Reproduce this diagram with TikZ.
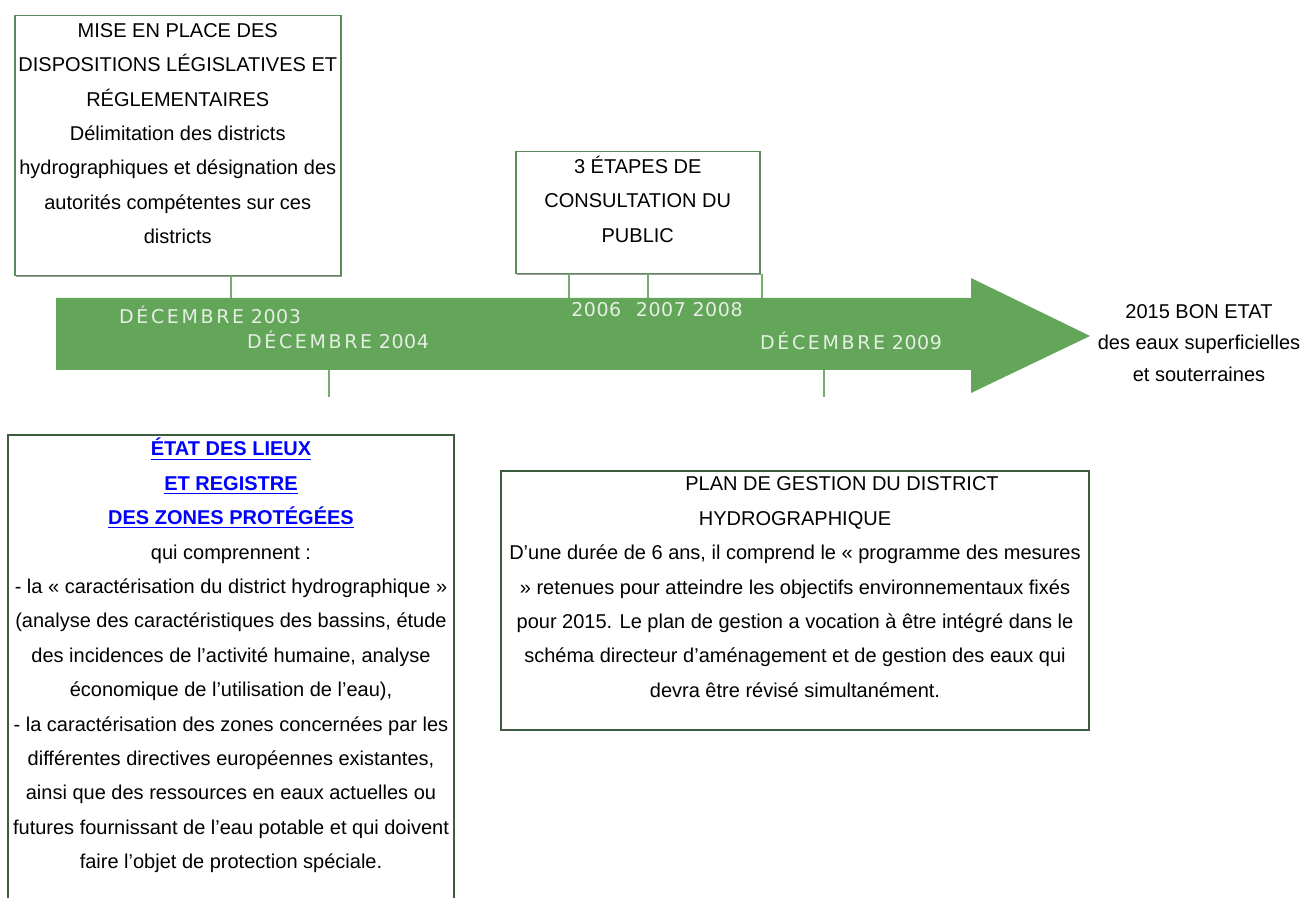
\documentclass[tikz,border=0pt]{standalone}
\usepackage{fontspec}
\setmainfont{Liberation Sans}
\newfontfamily\datefont[LetterSpace=14]{DejaVu Sans}
\newfontfamily\anfont[LetterSpace=3]{DejaVu Sans}
\usetikzlibrary{shadows}

\definecolor{vertfleche}{HTML}{63A559}
\definecolor{vertdate}{HTML}{E6EFE4}
\definecolor{vertcadre}{HTML}{5B8B5B}
\definecolor{vertfonce}{HTML}{3D5B3D}
\definecolor{bleulien}{HTML}{0000FF}

\newcommand{\corps}{\fontsize{10}{17.2}\selectfont}
\newcommand{\cadre}[4]{\parbox[t][#2][t]{#1}{\centering\rule{0pt}{#3}#4}}
\newcommand{\lienbleu}[1]{\textcolor{bleulien}{\textbf{\underline{#1}}}}
\newcommand{\mois}[1]{{\datefont #1}}

\tikzset{
  cadrehaut/.style={draw=vertcadre, line width=0.75pt, fill=white, inner sep=0pt, anchor=north west, font=\corps,
    drop shadow={shadow xshift=0.6pt, shadow yshift=-0.6pt, fill=black!40, opacity=1}},
  cadrebas/.style={draw=vertfonce, line width=1pt, fill=white, inner sep=0pt, anchor=north west, font=\corps},
  repere/.style={draw=vertfleche!90!white, line width=0.8pt},
  datelbl/.style={text=vertdate, font=\anfont\fontsize{9.5}{10}\selectfont, inner sep=0pt}
}

\begin{document}
\begin{tikzpicture}[x=0.5pt, y=-0.5pt]
\useasboundingbox (0,0) rectangle (1302,898);
\clip (0,0) rectangle (1302,898);

\coordinate (hautfleche) at (0,298);
\coordinate (basfleche) at (0,370);
\coordinate (x2003) at (231,0);
\coordinate (x2006) at (569,0);
\coordinate (x2007) at (648,0);
\coordinate (x2008) at (762,0);
\coordinate (fin2004) at (329,397);
\coordinate (fin2009) at (824,397);

\node[cadrehaut] (mise) at (14,15) {\cadre{163pt}{130pt}{10.8pt}{MISE EN PLACE DES\\DISPOSITIONS LÉGISLATIVES ET\\RÉGLEMENTAIRES\\Délimitation des districts\\hydrographiques et désignation des\\autorités compétentes sur ces\\districts}};
\node[cadrehaut] (consult) at (515,151) {\cadre{122pt}{61pt}{10.8pt}{3 ÉTAPES DE\\CONSULTATION DU\\PUBLIC}};

\draw[repere] (mise.south -| x2003) -- (hautfleche -| x2003);
\draw[repere] (consult.south -| x2006) -- (hautfleche -| x2006);
\draw[repere] (consult.south -| x2007) -- (hautfleche -| x2007);
\draw[repere] (consult.south -| x2008) -- (hautfleche -| x2008);
\draw[repere] (basfleche -| fin2004) -- (fin2004);
\draw[repere] (basfleche -| fin2009) -- (fin2009);

\fill[vertfleche] (56,298) -- (971,298) -- (971,278) -- (1090,336) -- (971,393) -- (971,370) -- (56,370) -- cycle;

\node[datelbl] (dec2003) at (210,315) {\mois{DÉCEMBRE} 2003};
\node[datelbl] (dec2004) at (338,340) {\mois{DÉCEMBRE} 2004};
\node[datelbl] (annees) at (657,310) {2006\hspace{4pt} 2007 2008};
\node[datelbl] (dec2009) at (851,341) {\mois{DÉCEMBRE} 2009};

\node[align=center, font=\fontsize{10}{15.85}\selectfont, inner sep=0pt] (objectif) at (1199,343) {2015 BON ETAT\\des eaux superficielles\\et souterraines};

\node[cadrebas] (etat) at (7,434) {\cadre{223pt}{240pt}{10.5pt}{\lienbleu{ÉTAT DES LIEUX}\\\lienbleu{ET REGISTRE}\\\lienbleu{DES ZONES PROTÉGÉES}\\qui comprennent :\\- la « caractérisation du district hydrographique »\\(analyse des caractéristiques des bassins, étude\\des incidences de l’activité humaine, analyse\\économique de l’utilisation de l’eau),\\- la caractérisation des zones concernées par les\\différentes directives européennes existantes,\\ainsi que des ressources en eaux actuelles ou\\futures fournissant de l’eau potable et qui doivent\\faire l’objet de protection spéciale.}};
\node[cadrebas] (plan) at (500,470) {\cadre{294pt}{129.5pt}{10pt}{\hspace*{47pt}PLAN DE GESTION DU DISTRICT\\HYDROGRAPHIQUE\\D’une durée de 6 ans, il comprend le « programme des mesures\\» retenues pour atteindre les objectifs environnementaux fixés\\pour 2015. Le plan de gestion a vocation à être intégré dans le\\schéma directeur d’aménagement et de gestion des eaux qui\\devra être révisé simultanément.}};
\end{tikzpicture}
\end{document}
